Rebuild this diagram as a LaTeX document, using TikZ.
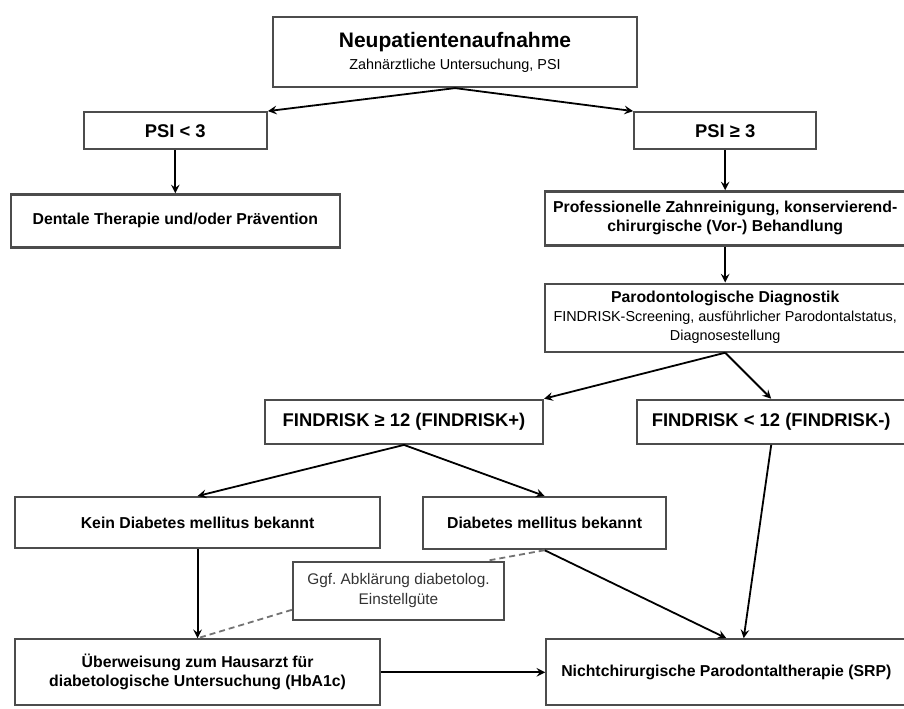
\documentclass[tikz,border=0pt]{standalone}
\usepackage{fontspec}
\setmainfont{Liberation Sans}
\usetikzlibrary{shapes,arrows,positioning}

\newcommand{\subline}[1]{{\mdseries\fontsize{7.2}{8.5}\selectfont #1}}

\begin{document}
\frenchspacing
\begin{tikzpicture}[node distance=20pt and 10pt]
  \tikzstyle{box} = [draw=black!70,line width=1.1pt,rectangle,align=center,inner sep=2pt,
    font=\fontsize{7.9}{9.5}\selectfont\bfseries]
  \tikzstyle{big} = [box,font=\fontsize{9.2}{11}\selectfont\bfseries]
  \tikzstyle{note} = [box,font=\fontsize{7.7}{10}\selectfont,text=black!80]
  \tikzstyle{arrow} = [line width=0.9pt,->,>=stealth]
  \tikzstyle{hint} = [line width=0.9pt,densely dashed,black!55]
  \useasboundingbox (0,0) rectangle (452pt,-354pt);
  \node (neu) [box,minimum width=182pt,minimum height=35pt] at (227.5pt,-26pt)
  {{\fontsize{10.5}{10.5}\selectfont Neupatientenaufnahme}\\[1.5pt]
   \subline{Zahnärztliche Untersuchung, PSI}};
  \node (psilt) [big,minimum width=91.5pt,minimum height=18.5pt,
    below left=11.5pt and 2pt of neu.south west] {PSI < 3};
  \node (psige) [big,minimum width=91pt,minimum height=18.5pt,
    below right=11.5pt and -2.5pt of neu.south east] {PSI ≥ 3};
  \node (dental) [box,minimum width=164.5pt,minimum height=26.5pt,below=21.5pt of psilt]
  {Dentale Therapie und/oder Prävention};
  \node (prof) [box,minimum width=180pt,minimum height=27pt,below=20pt of psige]
  {Professionelle Zahnreinigung, konservierend-\\chirurgische (Vor-) Behandlung};
  \node (paro) [box,minimum width=180pt,minimum height=34pt,below=18pt of prof]
  {Parodontologische Diagnostik\\
   \subline{FINDRISK-Screening, ausführlicher Parodontalstatus,}\\
   \subline{Diagnosestellung}};
  \node (findp) [big,minimum width=139pt,minimum height=22pt,
    below left=23pt and 0pt of paro.south west] {FINDRISK ≥ 12 (FINDRISK+)};
  \node (findm) [big,minimum width=134pt,minimum height=22pt,
    below left=23pt and 0pt of paro.south east] {FINDRISK < 12 (FINDRISK-)};
  \node (kein) [box,minimum width=182.5pt,minimum height=25.5pt,anchor=north west]
  at (7pt,-248pt) {Kein Diabetes mellitus bekannt};
  \node (diab) [box,minimum width=121.5pt,minimum height=26pt,anchor=north west]
  at (211pt,-248pt) {Diabetes mellitus bekannt};
  \node (ueber) [box,minimum width=182.5pt,minimum height=33pt,below=44.5pt of kein]
  {Überweisung zum Hausarzt für\\diabetologische Untersuchung (HbA1c)};
  \node (nicht) [box,minimum width=180pt,minimum height=33pt,right=82pt of ueber]
  {Nichtchirurgische Parodontaltherapie (SRP)};
  \node (ggf) [note,minimum width=105.5pt,minimum height=29pt] at (199.25pt,-295.5pt)
  {Ggf. Abklärung diabetolog.\\Einstellgüte};
  % Verbindungen
  \draw [arrow] (neu.south) -- (psilt.north east);
  \draw [arrow] (neu.south) -- (psige.north west);
  \draw [arrow] (psilt) -- (dental);
  \draw [arrow] (psige) -- (prof);
  \draw [arrow] (prof) -- (paro);
  \draw [arrow] (paro.south) -- (findp.north east);
  \draw [arrow] (paro.south) -- (findm.north);
  \draw [arrow] (findp.south) -- (kein.north);
  \draw [arrow] (findp.south) -- (diab.north);
  \draw [arrow] (kein) -- (ueber);
  \draw [arrow] (ueber) -- (nicht);
  \draw [arrow] (diab.south) -- (nicht.north);
  \draw [arrow] (findm.south) -- (nicht.63);
  \draw [hint] (diab.south) -- (ggf.19);
  \draw [hint] (ggf.190) -- (ueber.north);
\end{tikzpicture}
\end{document}
